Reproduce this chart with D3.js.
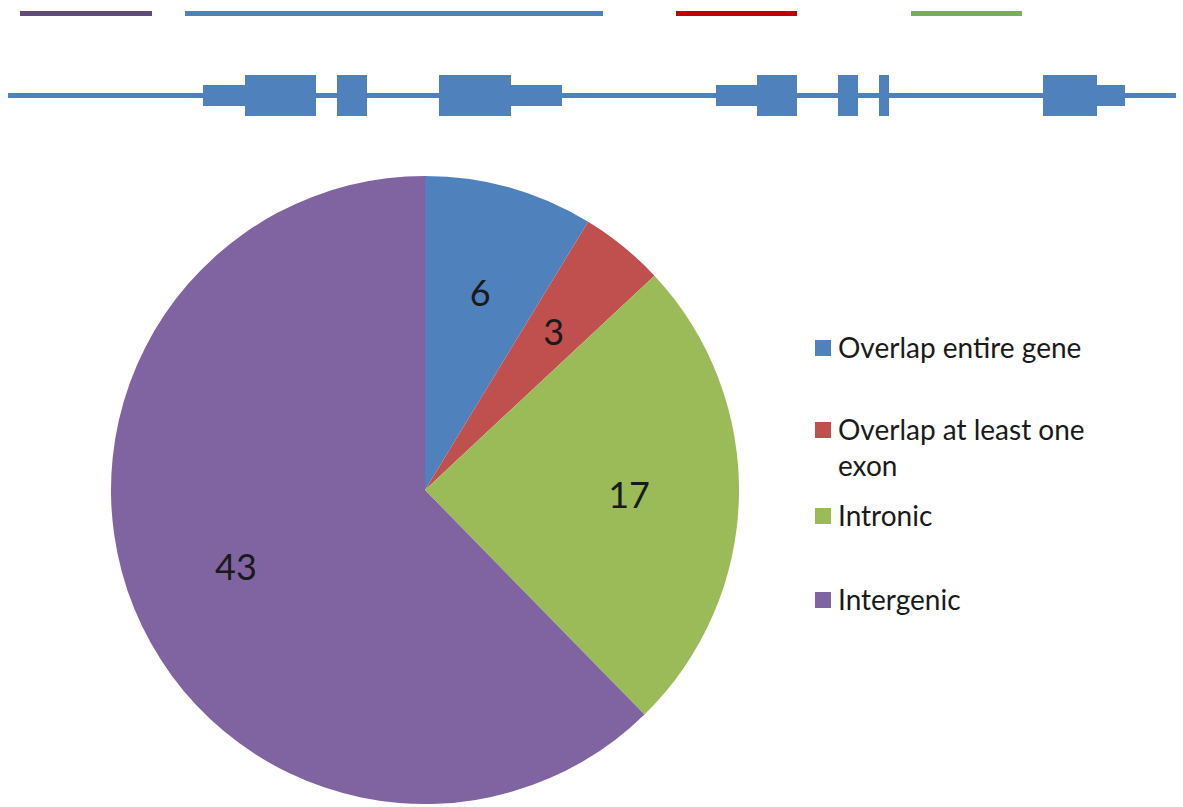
<!DOCTYPE html>
<html>
<head>
<meta charset="utf-8">
<script src="https://cdn.jsdelivr.net/npm/d3@7"></script>
<style>
  body { margin: 0; background: #fff; }
  svg { display: block; }
  text { font-family: Lato, "Open Sans", sans-serif; fill: #1a1a1a; }
</style>
</head>
<body>
<svg id="chart" width="1183" height="807"></svg>
<script>
// pie data
var categories = ["Overlap entire gene", "Overlap at least one exon", "Intronic", "Intergenic"];
var counts = [6, 3, 17, 43];
var sliceColors = ["#4f81bd", "#c0504d", "#9bbb59", "#8064a2"];

// schematic gene model (arbitrary genomic units)
var geneSpan = [0, 1168];
var regionBars = [
  { name: "Intergenic", start: 12, end: 144, color: "#604a7b" },
  { name: "Overlap entire gene", start: 177, end: 595, color: "#4f81bd" },
  { name: "Overlap at least one exon", start: 668, end: 789, color: "#c00000" },
  { name: "Intronic", start: 903, end: 1014, color: "#77b150" }
];
var utrs = [[195, 237], [503, 554], [708, 749], [1089, 1117]];
var exons = [[237, 308], [329, 359], [431, 503], [749, 789], [830, 850], [871, 881], [1035, 1089]];

var svg = d3.select("#chart");

// ---- gene diagram ----
var gx = d3.scaleLinear().domain(geneSpan).range([8, 1176]);

svg.selectAll(".region")
  .data(regionBars)
  .enter().append("rect")
  .attr("x", function (d) { return gx(d.start); })
  .attr("width", function (d) { return gx(d.end) - gx(d.start); })
  .attr("y", 11)
  .attr("height", 5)
  .style("fill", function (d) { return d.color; });

svg.append("rect")
  .attr("x", gx(geneSpan[0]))
  .attr("width", gx(geneSpan[1]) - gx(geneSpan[0]))
  .attr("y", 93)
  .attr("height", 5)
  .style("fill", "#4f81bd");

svg.selectAll(".utr")
  .data(utrs)
  .enter().append("rect")
  .attr("x", function (d) { return gx(d[0]); })
  .attr("width", function (d) { return gx(d[1]) - gx(d[0]); })
  .attr("y", 85)
  .attr("height", 21)
  .style("fill", "#4f81bd");

svg.selectAll(".exon")
  .data(exons)
  .enter().append("rect")
  .attr("x", function (d) { return gx(d[0]); })
  .attr("width", function (d) { return gx(d[1]) - gx(d[0]); })
  .attr("y", 75)
  .attr("height", 41)
  .style("fill", "#4f81bd");

// ---- pie ----
var cx = 425, cy = 490, R = 314;
var pie = d3.pie().sort(null).value(function (d) { return d; });
var arcs = pie(counts);
var arc = d3.arc().innerRadius(0).outerRadius(R);
var labelArc = d3.arc().innerRadius(R * 0.65).outerRadius(R * 0.65);

var g = svg.append("g").attr("transform", "translate(" + cx + "," + cy + ")");

g.selectAll(".slice")
  .data(arcs)
  .enter().append("path")
  .attr("d", arc)
  .style("fill", function (d, i) { return sliceColors[i]; });

g.selectAll(".lbl")
  .data(arcs)
  .enter().append("text")
  .attr("transform", function (d) { return "translate(" + labelArc.centroid(d) + ")"; })
  .attr("text-anchor", "middle")
  .attr("dy", "0.36em")
  .style("font-size", "36px")
  .text(function (d) { return d.data; });

// ---- legend ----
var legendY = [348, 430, 516, 600];
var legend = svg.selectAll(".legend")
  .data(categories)
  .enter().append("g")
  .attr("transform", function (d, i) { return "translate(815," + legendY[i] + ")"; });

legend.append("rect")
  .attr("x", 0)
  .attr("y", -8)
  .attr("width", 16)
  .attr("height", 16)
  .style("fill", function (d, i) { return sliceColors[i]; });

legend.append("text")
  .style("font-size", "28px")
  .each(function (d) {
    // wrap long label like the original
    var lines = d.length > 20 ? ["Overlap at least one", "exon"] : [d];
    var t = d3.select(this);
    lines.forEach(function (l, k) {
      t.append("tspan").attr("x", 23).attr("dy", k === 0 ? "0.36em" : "1.3em").text(l);
    });
  });
</script>
</body>
</html>
